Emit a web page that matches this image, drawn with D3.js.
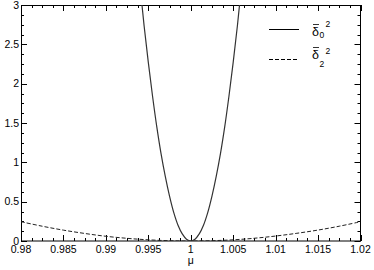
<!DOCTYPE html>
<html>
<head>
<meta charset="utf-8">
<script src="https://cdn.jsdelivr.net/npm/d3@7"></script>
<style>
  html, body { margin: 0; padding: 0; background: #fff; }
  svg { display: block; font-family: "Liberation Sans", Arial, sans-serif; }
</style>
</head>
<body>
<svg id="chart" width="374" height="270"></svg>
<script>
// ---- data ----
const xTicks = [0.98, 0.985, 0.99, 0.995, 1, 1.005, 1.01, 1.015, 1.02];
const xTickLabels = ['0.98', '0.985', '0.99', '0.995', '1', '1.005', '1.01', '1.015', '1.02'];
const yTicks = [0, 0.5, 1, 1.5, 2, 2.5, 3];
const yTickLabels = ['0', '0.5', '1', '1.5', '2', '2.5', '3'];

// delta_0^2 (solid)
const solidMu = [0.9935, 0.994, 0.9945, 0.995, 0.9955, 0.996, 0.9965, 0.997, 0.9975, 0.998, 0.9985, 0.999, 0.9995,
                 1, 1.0005, 1.001, 1.0015, 1.002, 1.0025, 1.003, 1.0035, 1.004, 1.0045, 1.005, 1.0055, 1.006, 1.0065];
const solidVal = [3.83, 3.27, 2.74, 2.27, 1.84, 1.45, 1.11, 0.82, 0.57, 0.36, 0.20, 0.09, 0.023,
                  0, 0.023, 0.09, 0.20, 0.36, 0.57, 0.82, 1.11, 1.45, 1.84, 2.27, 2.74, 3.27, 3.83];

// delta_2^2 (dashed)
const dashMu = [0.98, 0.9825, 0.985, 0.9875, 0.99, 0.9925, 0.995, 0.9975, 1,
                1.0025, 1.005, 1.0075, 1.01, 1.0125, 1.015, 1.0175, 1.02];
const dashVal = [0.245, 0.188, 0.138, 0.096, 0.060, 0.034, 0.015, 0.004, 0,
                 0.004, 0.015, 0.035, 0.063, 0.098, 0.139, 0.188, 0.245];

// ---- layout ----
const margin = { left: 21, top: 5, right: 13.5, bottom: 29 };
const W = 374, H = 270;
const pw = W - margin.left - margin.right;
const ph = H - margin.top - margin.bottom;

const svg = d3.select('#chart');
const g = svg.append('g').attr('transform', `translate(${margin.left},${margin.top})`);

const x = d3.scaleLinear().domain([0.98, 1.02]).range([0, pw]);
const y = d3.scaleLinear().domain([0, 3]).range([ph, 0]);

g.append('clipPath').attr('id', 'clip')
  .append('rect').attr('width', pw).attr('height', ph);

// ---- ticks (inward on all four sides) ----
const xMinor = d3.range(0, 33).map(i => 0.98 + i * 0.00125);
const yMinor = d3.range(0, 25).map(i => i * 0.125);

function isMajor(v, step) { return Math.abs(v / step - Math.round(v / step)) < 1e-6; }

const tickG = g.append('g').attr('stroke', '#000').attr('stroke-width', 1);
xMinor.forEach(v => {
  const len = isMajor(v - 0.98, 0.005) ? 6 : 3;
  const px = Math.round(x(v)) + 0.5;
  tickG.append('line').attr('x1', px).attr('x2', px).attr('y1', ph).attr('y2', ph - len);
  tickG.append('line').attr('x1', px).attr('x2', px).attr('y1', 0).attr('y2', len);
});
yMinor.forEach(v => {
  const len = isMajor(v, 0.5) ? 6 : 3;
  const py = Math.round(y(v)) + 0.5;
  tickG.append('line').attr('y1', py).attr('y2', py).attr('x1', 0).attr('x2', len);
  tickG.append('line').attr('y1', py).attr('y2', py).attr('x1', pw).attr('x2', pw - len);
});

// frame
g.append('rect').attr('x', 0.5).attr('y', 0.5).attr('width', pw - 0.5).attr('height', ph - 0.5)
  .attr('fill', 'none').attr('stroke', '#000').attr('stroke-width', 1);

// tick labels
g.append('g').selectAll('text').data(xTicks).join('text')
  .attr('x', d => x(d)).attr('y', ph + 12)
  .attr('text-anchor', 'middle').attr('font-size', 10.5).attr('fill', '#000')
  .text((d, i) => xTickLabels[i]);

g.append('g').selectAll('text').data(yTicks).join('text')
  .attr('x', -2).attr('y', d => y(d) + 3.6)
  .attr('text-anchor', 'end').attr('font-size', 10.5).attr('fill', '#000')
  .text((d, i) => yTickLabels[i]);

// axis title
g.append('text').attr('x', x(1)).attr('y', ph + 23.3)
  .attr('text-anchor', 'middle').attr('font-size', 10.5).attr('fill', '#000').text('μ');

// ---- curves ----
const line = d3.line().x(d => x(d[0])).y(d => y(d[1])).curve(d3.curveCatmullRom);
const plot = g.append('g').attr('clip-path', 'url(#clip)');

plot.append('path').datum(dashMu.map((m, i) => [m, dashVal[i]]))
  .attr('d', line).attr('fill', 'none').attr('stroke', '#222').attr('stroke-width', 1)
  .attr('stroke-dasharray', '4,2');

plot.append('path').datum(solidMu.map((m, i) => [m, solidVal[i]]))
  .attr('d', line).attr('fill', 'none').attr('stroke', '#333').attr('stroke-width', 1.2);

// ---- legend ----
const leg = svg.append('g');
leg.append('line').attr('x1', 269).attr('x2', 299).attr('y1', 29.5).attr('y2', 29.5)
  .attr('stroke', '#000').attr('stroke-width', 1);
leg.append('line').attr('x1', 269).attr('x2', 299).attr('y1', 59.5).attr('y2', 59.5)
  .attr('stroke', '#000').attr('stroke-width', 1).attr('stroke-dasharray', '4,2');

function deltaLabel(x0, base, subBase, supBase, sub) {
  leg.append('text').attr('x', x0).attr('y', base).attr('font-size', 12.5).attr('fill', '#000').text('δ');
  leg.append('line').attr('x1', x0 + 1).attr('x2', x0 + 7).attr('y1', base - 11.5).attr('y2', base - 11.5)
    .attr('stroke', '#000').attr('stroke-width', 0.8);
  leg.append('text').attr('x', x0 + 7.5).attr('y', subBase).attr('font-size', 8.5).attr('fill', '#000').text(sub);
  leg.append('text').attr('x', x0 + 13.5).attr('y', supBase).attr('font-size', 8.5).attr('fill', '#000').text('2');
}
deltaLabel(312, 36, 37.5, 27, '0');
deltaLabel(312, 59, 66.5, 53.5, '2');
</script>
</body>
</html>
